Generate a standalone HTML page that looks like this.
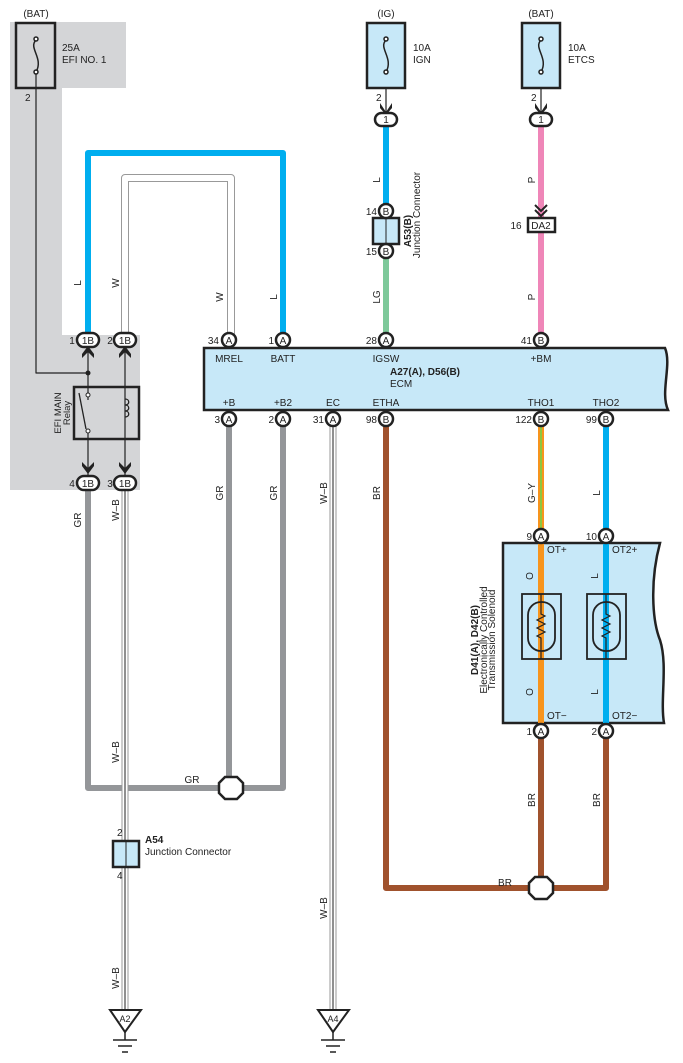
<!DOCTYPE html>
<html><head><meta charset="utf-8"><style>
html,body{margin:0;padding:0;background:#fff}
svg{display:block}
text{font-family:"Liberation Sans",sans-serif;font-size:10px;fill:#222}
.b{font-weight:bold}
.c{text-anchor:middle}
</style></head><body>
<svg width="683" height="1063" viewBox="0 0 683 1063" xmlns="http://www.w3.org/2000/svg">
<path d="M10 22 H126 V88 H62 V335 H140 V490 H10 Z" fill="#d4d5d7"/>

<g fill="none" stroke-linejoin="round">
<path d="M88 335 V153 H283 V335" stroke="#00aeef" stroke-width="6"/>
<path d="M125 335 V178 H231 V335" stroke="#999" stroke-width="8"/>
<path d="M125 335 V178 H231 V335" stroke="#fff" stroke-width="6"/>
<path d="M386 126 V212" stroke="#00aeef" stroke-width="6"/>
<path d="M386 250 V335" stroke="#7ec99a" stroke-width="6"/>
<path d="M541 126 V335" stroke="#ef86b8" stroke-width="6"/>
<path d="M229 426 V788 H88 V490 M229 788 H283 V426" stroke="#949699" stroke-width="6"/>
<path d="M386 426 V888 H606 V738 M541 738 V888" stroke="#a0522d" stroke-width="6"/>
<path d="M541 426 V535" stroke="#f7941d" stroke-width="6"/>
<path d="M541 426 V535" stroke="#8dc63f" stroke-width="2"/>
<path d="M606 426 V535" stroke="#00aeef" stroke-width="6"/>
<path d="M125 490 V1012 M333 426 V1012" stroke="#999" stroke-width="7"/>
<path d="M125 490 V1012 M333 426 V1012" stroke="#fff" stroke-width="5"/>
<path d="M125 490 V1012 M333 426 V1012" stroke="#222" stroke-width="1"/>
<path d="M36 72 V373 H88" stroke="#222" stroke-width="1.2"/>
<path d="M88 345 V400 M88 432 V476 M125 345 V476" stroke="#222" stroke-width="1.2"/>
<path d="M386 75 V112 M541 75 V112" stroke="#222" stroke-width="1.2"/>
</g>
<circle cx="88" cy="373" r="2.5" fill="#222"/>

<g stroke="#222" stroke-width="2.5">
<rect x="16" y="23" width="39" height="65" fill="none"/>
<rect x="367" y="23" width="38" height="65" fill="#c7e8f8"/>
<rect x="522" y="23" width="38" height="65" fill="#c7e8f8"/>
</g>
<g fill="none" stroke="#222" stroke-width="1.5">
<path d="M36 40 C28 48 44 58 36 72"/><circle cx="36" cy="39" r="2" fill="#fff"/><circle cx="36" cy="72" r="2" fill="#fff"/>
<path d="M386 40 C378 48 394 58 386 72"/><circle cx="386" cy="39" r="2" fill="#fff"/><circle cx="386" cy="72" r="2" fill="#fff"/>
<path d="M541 40 C533 48 549 58 541 72"/><circle cx="541" cy="39" r="2" fill="#fff"/><circle cx="541" cy="72" r="2" fill="#fff"/>
</g>
<text x="36" y="17" class="c">(BAT)</text>
<text x="62" y="51">25A</text><text x="62" y="63">EFI NO. 1</text>
<text x="25" y="101">2</text>
<text x="386" y="17" class="c">(IG)</text>
<text x="413" y="51">10A</text><text x="413" y="63">IGN</text>
<text x="541" y="17" class="c">(BAT)</text>
<text x="568" y="51">10A</text><text x="568" y="63">ETCS</text>
<text x="376" y="101">2</text><text x="531" y="101">2</text>

<g fill="#222">
<path d="M380 103 L386 112 L392 103 L392 108 L386 115 L380 108Z"/>
<path d="M535 103 L541 112 L547 103 L547 108 L541 115 L535 108Z"/>
<path d="M82 354 L88 346 L94 354 L94 358 L88 352 L82 358Z"/>
<path d="M119 354 L125 346 L131 354 L131 358 L125 352 L119 358Z"/>
<path d="M82 466 L88 474 L94 466 L94 462 L88 468 L82 462Z"/>
<path d="M119 466 L125 474 L131 466 L131 462 L125 468 L119 462Z"/>
</g>
<path d="M535 205 L541 211 L547 205 M535 210 L541 216 L547 210" fill="none" stroke="#222" stroke-width="2"/>

<g stroke="#222" stroke-width="2.5" fill="#fff">
<rect x="375" y="113" width="22" height="13" rx="6.5"/>
<rect x="530" y="113" width="22" height="13" rx="6.5"/>
<rect x="77" y="333" width="22" height="14" rx="7"/>
<rect x="114" y="333" width="22" height="14" rx="7"/>
<rect x="77" y="476" width="22" height="14" rx="7"/>
<rect x="114" y="476" width="22" height="14" rx="7"/>
<rect x="528" y="218" width="27" height="14" fill="#fff"/>
</g>
<text x="386" y="123" class="c">1</text><text x="541" y="123" class="c">1</text>
<text x="88" y="344" class="c">1B</text><text x="125" y="344" class="c">1B</text>
<text x="88" y="487" class="c">1B</text><text x="125" y="487" class="c">1B</text>
<text x="72" y="344" class="c">1</text><text x="110" y="344" class="c">2</text>
<text x="72" y="487" class="c">4</text><text x="110" y="487" class="c">3</text>
<text x="541" y="229" class="c">DA2</text><text x="516" y="229" class="c">16</text>

<rect x="74" y="387" width="65" height="52" fill="none" stroke="#222" stroke-width="2.5"/>
<circle cx="88" cy="395" r="2" fill="#fff" stroke="#222"/>
<circle cx="88" cy="431" r="2" fill="#fff" stroke="#222"/>
<path d="M86 429 L79 393" stroke="#222" stroke-width="1.3"/>
<path d="M125 399 c5 0 5 6 0 6 c5 0 5 6 0 6 c5 0 5 6 0 6" fill="none" stroke="#222" stroke-width="1.3"/>
<text transform="translate(61 413) rotate(-90)" class="c" style="font-size:9.5px">EFI MAIN</text>
<text transform="translate(70 413) rotate(-90)" class="c" style="font-size:9.5px">Relay</text>

<rect x="373" y="218" width="26" height="26" fill="#c7e8f8" stroke="#222" stroke-width="2.5"/>
<line x1="386" y1="218" x2="386" y2="244" stroke="#222"/>
<text transform="translate(411 231) rotate(-90)" class="c b">A53(B)</text>
<text transform="translate(420 215) rotate(-90)" class="c">Junction Connector</text>

<path d="M204 348 H665 C672 365 660 392 668 410 H204 Z" fill="#c7e8f8" stroke="#222" stroke-width="2.5"/>
<text x="229" y="362" class="c">MREL</text><text x="283" y="362" class="c">BATT</text>
<text x="386" y="362" class="c">IGSW</text><text x="541" y="362" class="c">+BM</text>
<text x="390" y="375" class="b">A27(A), D56(B)</text><text x="390" y="387">ECM</text>
<text x="229" y="406" class="c">+B</text><text x="283" y="406" class="c">+B2</text>
<text x="333" y="406" class="c">EC</text><text x="386" y="406" class="c">ETHA</text>
<text x="541" y="406" class="c">THO1</text><text x="606" y="406" class="c">THO2</text>

<path d="M503 543 H660 C650 580 652 620 660 640 C668 665 660 700 664 723 H503 Z" fill="#c7e8f8" stroke="#222" stroke-width="2.5"/>
<path d="M541 543 V723" stroke="#f7941d" stroke-width="6"/>
<path d="M606 543 V723" stroke="#00aeef" stroke-width="6"/>
<g fill="none" stroke="#222" stroke-width="1.8">
<rect x="522" y="594" width="39" height="65"/><rect x="587" y="594" width="39" height="65"/>
<rect x="528" y="602" width="27" height="49" rx="13"/><rect x="593" y="602" width="27" height="49" rx="13"/>
</g>
<g fill="none" stroke="#222" stroke-width="1.2">
<path d="M541 594 V614 l4 2 -8 4 8 4 -8 4 8 4 -8 4 4 2 V659"/>
<path d="M606 594 V614 l4 2 -8 4 8 4 -8 4 8 4 -8 4 4 2 V659"/>
</g>
<text x="547" y="553">OT+</text><text x="612" y="553">OT2+</text>
<text x="547" y="719">OT−</text><text x="612" y="719">OT2−</text>
<text transform="translate(533 576) rotate(-90)" class="c">O</text>
<text transform="translate(533 692) rotate(-90)" class="c">O</text>
<text transform="translate(598 576) rotate(-90)" class="c">L</text>
<text transform="translate(598 692) rotate(-90)" class="c">L</text>
<text transform="translate(478 640) rotate(-90)" class="c b">D41(A), D42(B)</text>
<text transform="translate(487 640) rotate(-90)" class="c">Electronically Controlled</text>
<text transform="translate(495 640) rotate(-90)" class="c">Transmission Solenoid</text>

<g stroke="#222" stroke-width="2.5" fill="#fff">
<circle cx="229" cy="340" r="7"/><circle cx="283" cy="340" r="7"/><circle cx="386" cy="340" r="7"/><circle cx="541" cy="340" r="7"/>
<circle cx="229" cy="419" r="7"/><circle cx="283" cy="419" r="7"/><circle cx="333" cy="419" r="7"/><circle cx="386" cy="419" r="7"/><circle cx="541" cy="419" r="7"/><circle cx="606" cy="419" r="7"/>
<circle cx="386" cy="211" r="7"/><circle cx="386" cy="251" r="7"/>
<circle cx="541" cy="536" r="7"/><circle cx="606" cy="536" r="7"/>
<circle cx="541" cy="731" r="7"/><circle cx="606" cy="731" r="7"/>
</g>
<text x="229" y="344" class="c">A</text><text x="283" y="344" class="c">A</text><text x="386" y="344" class="c">A</text><text x="541" y="344" class="c">B</text>
<text x="229" y="423" class="c">A</text><text x="283" y="423" class="c">A</text><text x="333" y="423" class="c">A</text><text x="386" y="423" class="c">B</text><text x="541" y="423" class="c">B</text><text x="606" y="423" class="c">B</text>
<text x="386" y="215" class="c">B</text><text x="386" y="255" class="c">B</text>
<text x="541" y="540" class="c">A</text><text x="606" y="540" class="c">A</text>
<text x="541" y="735" class="c">A</text><text x="606" y="735" class="c">A</text>
<text x="219" y="344" text-anchor="end">34</text><text x="274" y="344" text-anchor="end">1</text><text x="377" y="344" text-anchor="end">28</text><text x="532" y="344" text-anchor="end">41</text>
<text x="220" y="423" text-anchor="end">3</text><text x="274" y="423" text-anchor="end">2</text><text x="324" y="423" text-anchor="end">31</text><text x="377" y="423" text-anchor="end">98</text><text x="532" y="423" text-anchor="end">122</text><text x="597" y="423" text-anchor="end">99</text>
<text x="377" y="215" text-anchor="end">14</text><text x="377" y="255" text-anchor="end">15</text>
<text x="532" y="540" text-anchor="end">9</text><text x="597" y="540" text-anchor="end">10</text>
<text x="532" y="735" text-anchor="end">1</text><text x="597" y="735" text-anchor="end">2</text>

<path d="M225 777 h12 l6 6 v10 l-6 6 h-12 l-6 -6 v-10 z" fill="#fff" stroke="#222" stroke-width="2.5"/>
<path d="M535 877 h12 l6 6 v10 l-6 6 h-12 l-6 -6 v-10 z" fill="#fff" stroke="#222" stroke-width="2.5"/>

<rect x="113" y="841" width="26" height="26" fill="#c7e8f8" stroke="#222" stroke-width="2.5"/>
<line x1="126" y1="841" x2="126" y2="867" stroke="#222"/>
<text x="117" y="836">2</text><text x="117" y="879">4</text>
<text x="145" y="843" class="b">A54</text><text x="145" y="855">Junction Connector</text>

<g stroke="#222" stroke-width="2" fill="#fff">
<path d="M110 1010 H141 L125 1032 Z"/><path d="M318 1010 H349 L333 1032 Z"/>
</g>
<g stroke="#222" stroke-width="1.5">
<path d="M125 1032 V1040 M113 1040 H137 M118 1046 H132 M122 1052 H128"/>
<path d="M333 1032 V1040 M321 1040 H345 M326 1046 H340 M330 1052 H336"/>
</g>
<text x="125" y="1022" class="c" style="font-size:9px">A2</text>
<text x="333" y="1022" class="c" style="font-size:9px">A4</text>

<text transform="translate(81 283) rotate(-90)" class="c">L</text>
<text transform="translate(119 283) rotate(-90)" class="c">W</text>
<text transform="translate(223 297) rotate(-90)" class="c">W</text>
<text transform="translate(277 297) rotate(-90)" class="c">L</text>
<text transform="translate(380 180) rotate(-90)" class="c">L</text>
<text transform="translate(380 297) rotate(-90)" class="c">LG</text>
<text transform="translate(535 180) rotate(-90)" class="c">P</text>
<text transform="translate(535 297) rotate(-90)" class="c">P</text>
<text transform="translate(223 493) rotate(-90)" class="c">GR</text>
<text transform="translate(277 493) rotate(-90)" class="c">GR</text>
<text transform="translate(81 520) rotate(-90)" class="c">GR</text>
<text transform="translate(119 510) rotate(-90)" class="c">W–B</text>
<text transform="translate(327 493) rotate(-90)" class="c">W–B</text>
<text transform="translate(380 493) rotate(-90)" class="c">BR</text>
<text transform="translate(535 493) rotate(-90)" class="c">G–Y</text>
<text transform="translate(600 493) rotate(-90)" class="c">L</text>
<text transform="translate(119 752) rotate(-90)" class="c">W–B</text>
<text transform="translate(119 978) rotate(-90)" class="c">W–B</text>
<text transform="translate(327 908) rotate(-90)" class="c">W–B</text>
<text transform="translate(535 800) rotate(-90)" class="c">BR</text>
<text transform="translate(600 800) rotate(-90)" class="c">BR</text>
<text x="192" y="783" class="c">GR</text>
<text x="505" y="886" class="c">BR</text>
</svg>
</body></html>
